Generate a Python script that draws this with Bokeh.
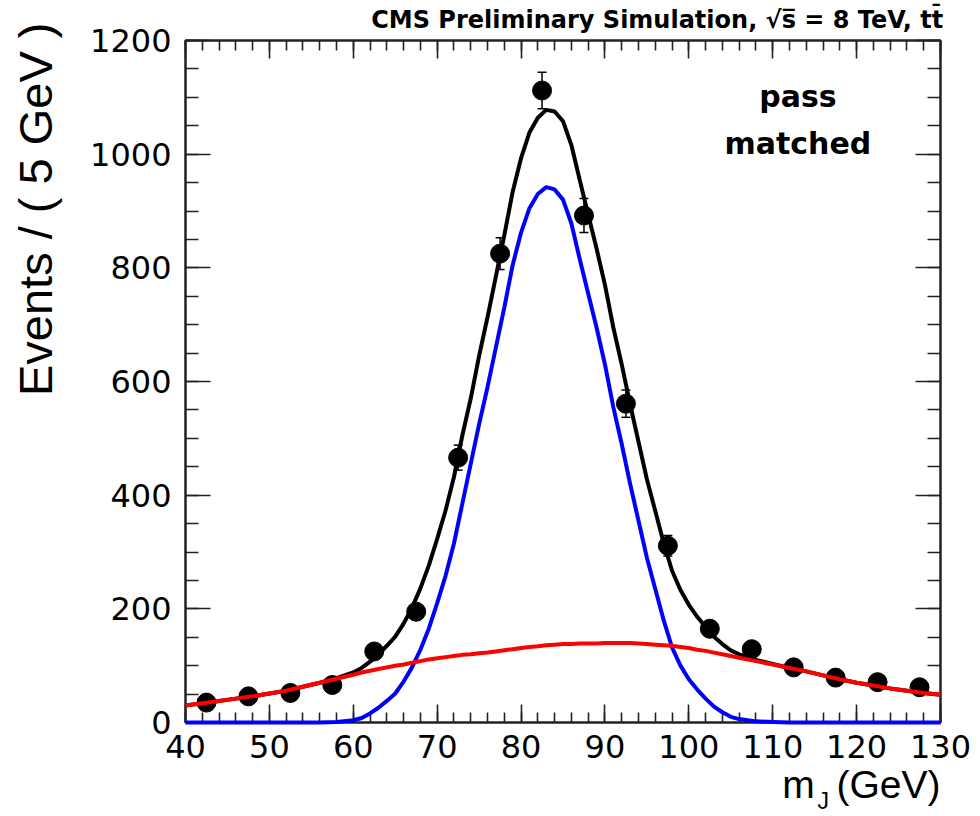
import math
from bokeh.plotting import figure
from bokeh.models import (ColumnDataSource, LinearAxis, Range1d, Label, Whisker,
                          TeeHead, SingleIntervalTicker, CustomJSTickFormatter)
from bokeh.embed import file_html
from bokeh.resources import INLINE

# ---------------- data ----------------
bin_centers = [42.5, 47.5, 52.5, 57.5, 62.5, 67.5, 72.5, 77.5, 82.5,
               87.5, 92.5, 97.5, 102.5, 107.5, 112.5, 117.5, 122.5, 127.5]
events = [35, 46, 52, 66, 125, 195, 466, 825, 1112,
          892, 561, 311, 165, 129, 97, 79, 71, 62]
event_errors = [6, 7, 7, 8, 11, 14, 22, 28, 32, 30, 24, 18, 13, 11, 10, 9, 8, 8]

curve_x = [40, 42, 44, 46, 48, 50, 52, 54, 56, 58,
           60, 61, 62, 63, 64, 65, 66, 67, 68, 69,
           70, 71, 72, 73, 74, 75, 76, 77, 78, 79,
           80, 81, 82, 83, 84, 85, 86, 87, 88, 89,
           90, 91, 92, 93, 94, 95, 96, 97, 98, 99,
           100, 101, 102, 103, 104, 105, 106, 108, 110, 112,
           114, 116, 118, 120, 122, 124, 126, 128, 130]
signal_fit = [0, 0, 0, 0, 0, 0, 0, 0, 0, 1,
              4, 8, 16, 26, 38, 51, 72, 97, 128, 165,
              210, 258, 315, 385, 455, 525, 590, 660, 730, 805,
              862, 905, 930, 942, 938, 920, 878, 815, 755, 695,
              630, 555, 490, 420, 355, 290, 235, 180, 132, 100,
              76, 58, 42, 28, 18, 10, 6, 2, 1, 0,
              0, 0, 0, 0, 0, 0, 0, 0, 0]
background_fit = [30, 34, 38, 42, 46, 51, 56, 63, 70, 77,
                  84, 88, 91, 94, 97, 100, 102, 105, 108, 111,
                  113, 115, 117, 119, 120, 122, 123, 125, 127, 129,
                  131, 133, 134, 136, 137, 138, 138, 139, 139, 139,
                  140, 140, 140, 140, 139, 138, 137, 136, 135, 133,
                  131, 128, 126, 123, 120, 117, 114, 108, 102, 96,
                  90, 83, 76, 70, 65, 60, 56, 52, 49]
total_fit = [30, 34, 38, 42, 46, 51, 56, 63, 70, 78,
             88, 96, 107, 120, 135, 151, 174, 202, 236, 276,
             323, 373, 432, 505, 570, 645, 713, 785, 857, 934,
             993, 1038, 1064, 1078, 1075, 1058, 1016, 954, 894, 834,
             770, 695, 630, 560, 494, 428, 372, 316, 267, 233,
             207, 186, 168, 151, 138, 127, 120, 110, 103, 96,
             90, 83, 76, 70, 65, 60, 56, 52, 49]

x_label_main = "m\u00a0\u00a0(GeV)"
x_label_sub = "J"
y_label = "Events / ( 5 GeV )"
header = "CMS Preliminary Simulation,  \u221as\u0305 = 8 TeV, tt\u0304"
tag_lines = ["pass", "matched"]

# ---------------- figure ----------------
p = figure(width=980, height=816, x_range=Range1d(40, 130), y_range=Range1d(0, 1200),
           output_backend="svg", toolbar_location=None,
           min_border_left=185, min_border_right=40, min_border_top=40, min_border_bottom=94,
           x_axis_location=None, y_axis_location=None)
p.title.visible = False
p.grid.visible = False
p.background_fill_color = "white"
p.border_fill_color = "white"
p.outline_line_color = "#222222"
p.outline_line_width = 2

TICK_FONT = "DejaVu Sans"

def make_axis(side, labels):
    if side in ("below", "above"):
        ticker = SingleIntervalTicker(interval=10, num_minor_ticks=5)
        maj, mnr = 18, 10
    else:
        ticker = SingleIntervalTicker(interval=200, num_minor_ticks=4)
        maj, mnr = 25, 13
    ax = LinearAxis(ticker=ticker)
    ax.major_tick_in = maj
    ax.major_tick_out = 0
    ax.minor_tick_in = mnr
    ax.minor_tick_out = 0
    ax.axis_line_color = "#222222"
    ax.axis_line_width = 2
    ax.major_tick_line_color = "#222222"
    ax.major_tick_line_width = 1.6
    ax.minor_tick_line_color = "#222222"
    ax.minor_tick_line_width = 1.6
    if labels:
        ax.major_label_text_font = TICK_FONT
        ax.major_label_text_font_size = "32px"
        ax.major_label_text_color = "black"
        ax.major_label_standoff = 14 if side == "left" else 12
    else:
        ax.formatter = CustomJSTickFormatter(code="return ''")
        ax.major_label_text_font_size = "0px"
        ax.major_label_standoff = 0
    p.add_layout(ax, side)
    return ax

make_axis("below", True)
make_axis("left", True)
make_axis("above", False)
make_axis("right", False)

# ---------------- data points ----------------
src = ColumnDataSource(dict(
    x=bin_centers, y=events,
    upper=[v + e for v, e in zip(events, event_errors)],
    lower=[v - e for v, e in zip(events, event_errors)],
))
wh = Whisker(base="x", upper="upper", lower="lower", source=src,
             line_color="black", line_width=1.5,
             upper_head=TeeHead(size=9, line_color="black", line_width=1.5),
             lower_head=TeeHead(size=9, line_color="black", line_width=1.5))
p.add_layout(wh)
p.scatter("x", "y", source=src, marker="circle", size=19,
          fill_color="black", line_color="black")

# ---------------- fit curves ----------------
csrc = ColumnDataSource(dict(x=curve_x, total=total_fit, sig=signal_fit, bkg=background_fit))
p.line("x", "total", source=csrc, line_color="black", line_width=4)
blue = p.line("x", "sig", source=csrc, line_color="#0000ff", line_width=4)
blue.level = "overlay"
red = p.line("x", "bkg", source=csrc, line_color="#ff0000", line_width=4)
red.level = "overlay"

# ---------------- texts (margin texts live in side panels, canvas units) ----------------
p.add_layout(Label(x=951, y=19, x_units="canvas", y_units="canvas", text=header,
                   text_align="right", text_baseline="alphabetic",
                   text_font="DejaVu Sans", text_font_style="bold",
                   text_font_size="24px", text_color="black"), "above")
p.add_layout(Label(x=35, y=22, x_units="canvas", y_units="canvas", text=y_label,
                   angle=math.pi / 2, text_align="right", text_baseline="alphabetic",
                   text_font="Liberation Sans", text_font_size="47px",
                   text_color="black"), "left")
p.add_layout(Label(x=940, y=784, x_units="canvas", y_units="canvas", text=x_label_main,
                   text_align="right", text_baseline="alphabetic",
                   text_font="Liberation Sans", text_font_size="39px",
                   text_color="black"), "below")
p.add_layout(Label(x=817, y=800, x_units="canvas", y_units="canvas", text=x_label_sub,
                   text_align="left", text_baseline="alphabetic",
                   text_font="Liberation Sans", text_font_size="23px",
                   text_color="black"), "right")

p.add_layout(Label(x=113, y=1102, text=tag_lines[0], text_align="center",
                   text_baseline="alphabetic", text_font="DejaVu Sans",
                   text_font_style="bold", text_font_size="30px", text_color="black"))
p.add_layout(Label(x=113, y=1019, text=tag_lines[1], text_align="center",
                   text_baseline="alphabetic", text_font="DejaVu Sans",
                   text_font_style="bold", text_font_size="30px", text_color="black"))

open("out.html", "w").write(file_html(p, INLINE))
